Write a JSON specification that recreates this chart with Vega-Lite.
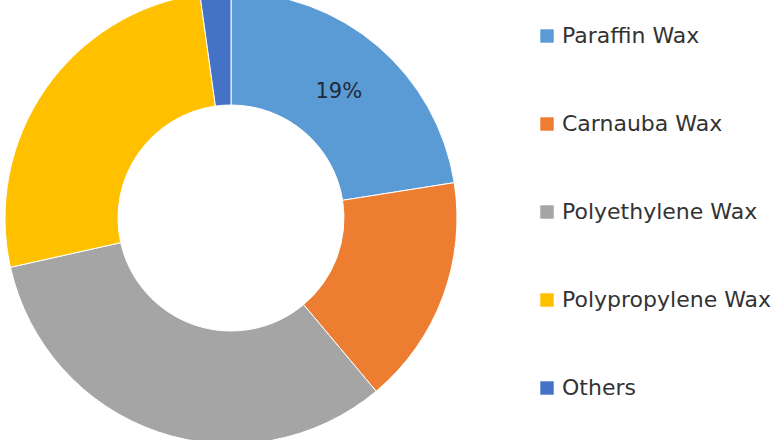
{
  "$schema": "https://vega.github.io/schema/vega-lite/v6.json",
  "width": 462,
  "height": 436,
  "autosize": "none",
  "padding": {"left": 0, "top": 0, "right": 318, "bottom": 4},
  "background": "white",
  "data": {
    "values": [
      {"type": "Paraffin Wax", "share": 22.5, "idx": 1, "label": "19%"},
      {"type": "Carnauba Wax", "share": 16.4, "idx": 2, "label": ""},
      {"type": "Polyethylene Wax", "share": 32.6, "idx": 3, "label": ""},
      {"type": "Polypropylene Wax", "share": 26.3, "idx": 4, "label": ""},
      {"type": "Others", "share": 2.2, "idx": 5, "label": ""}
    ]
  },
  "encoding": {
    "theta": {"field": "share", "type": "quantitative", "stack": true},
    "order": {"field": "idx", "type": "quantitative"}
  },
  "layer": [
    {
      "mark": {"type": "arc", "outerRadius": 226, "innerRadius": 113, "stroke": "white", "strokeWidth": 1},
      "encoding": {
        "color": {
          "field": "type",
          "type": "nominal",
          "scale": {
            "domain": ["Paraffin Wax", "Carnauba Wax", "Polyethylene Wax", "Polypropylene Wax", "Others"],
            "range": ["#5b9bd5", "#ed7d31", "#a5a5a5", "#ffc000", "#4472c4"]
          },
          "legend": {
            "title": null,
            "orient": "none",
            "legendX": 536,
            "legendY": 25,
            "symbolType": "square",
            "symbolSize": 180,
            "symbolStrokeWidth": 0,
            "labelFontSize": 22,
            "labelFont": "DejaVu Sans",
            "labelColor": "#333333",
            "labelOffset": 4,
            "rowPadding": 66,
            "labelLimit": 300
          }
        }
      }
    },
    {
      "mark": {"type": "text", "radius": 166, "fontSize": 21, "font": "DejaVu Sans", "color": "#1f2a38"},
      "encoding": {
        "text": {"field": "label"}
      }
    }
  ]
}
